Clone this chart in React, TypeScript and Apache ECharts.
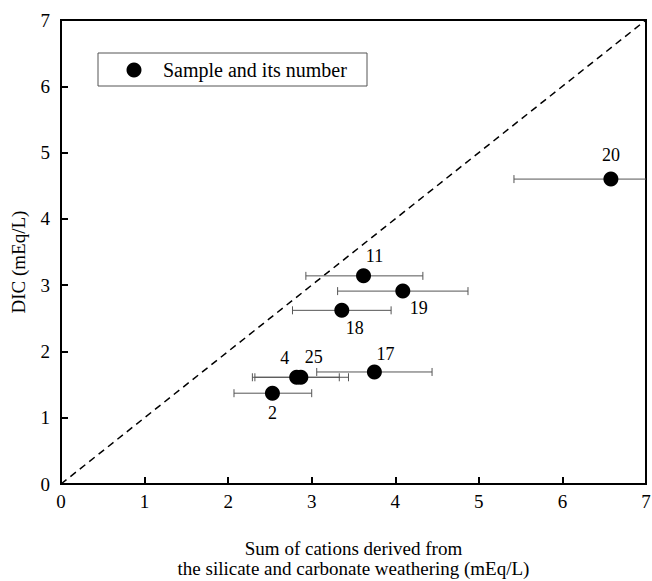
import React, { useEffect, useRef } from "react";
import * as echarts from "echarts";

const sampleIds = ["20", "11", "19", "18", "17", "4", "25", "2"];
const cations = [6.58, 3.62, 4.09, 3.36, 3.75, 2.82, 2.87, 2.53];
const dic = [4.6, 3.14, 2.91, 2.62, 1.69, 1.61, 1.61, 1.37];
const errLow = [5.42, 2.93, 3.31, 2.77, 3.06, 2.29, 2.32, 2.07];
const errHigh = [7.74, 4.33, 4.87, 3.95, 4.44, 3.33, 3.44, 3.0];
const labelOffsets: [number, number][] = [
  [0, -24],
  [11, -20],
  [16, 17],
  [13, 18],
  [11, -18],
  [-12, -19],
  [13, -20],
  [0, 20],
];
const axisTicks = [0, 1, 2, 3, 4, 5, 6, 7];
const oneToOne = [
  [0, 0],
  [7, 7],
];

const FONT = "Liberation Serif";

export default function App() {
  const ref = useRef<HTMLDivElement>(null);
  useEffect(() => {
    if (!ref.current) return;
    const chart = echarts.init(ref.current, null, { renderer: "svg" });
    const axisCommon = {
      type: "value",
      min: axisTicks[0],
      max: axisTicks[axisTicks.length - 1],
      interval: 1,
      axisLine: { show: true, lineStyle: { color: "#000", width: 2 } },
      axisTick: { show: true, inside: true, length: 7, lineStyle: { color: "#000", width: 2 } },
      splitLine: { show: false },
      axisLabel: { color: "#000", fontFamily: FONT, fontSize: 19 },
      nameTextStyle: { color: "#000", fontFamily: FONT, fontSize: 19, lineHeight: 20 },
    };
    chart.setOption({
      animation: false,
      backgroundColor: "#fff",
      grid: {
        left: 61,
        right: 6,
        top: 20,
        bottom: 97,
        outerBoundsMode: "none",
        containLabel: false,
        show: true,
        borderColor: "#000",
        borderWidth: 2,
        backgroundColor: "transparent",
      },
      xAxis: {
        ...axisCommon,
        axisLabel: { ...axisCommon.axisLabel, margin: 8 },
        name: "Sum of cations derived from\nthe silicate and carbonate weathering (mEq/L)",
        nameLocation: "middle",
        nameGap: 54,
      },
      yAxis: {
        ...axisCommon,
        axisLabel: { ...axisCommon.axisLabel, margin: 11 },
      },
      graphic: [
        {
          type: "text",
          x: 18,
          y: 262,
          rotation: Math.PI / 2,
          style: {
            text: "DIC (mEq/L)",
            fill: "#000",
            font: `19px "${FONT}"`,
            align: "center",
            verticalAlign: "middle",
          },
        },
        {
          type: "rect",
          shape: { x: 98, y: 53, width: 269, height: 33 },
          style: { fill: "#fff", stroke: "#555", lineWidth: 1 },
          z: 100,
        },
        {
          type: "circle",
          shape: { cx: 134, cy: 70, r: 7.5 },
          style: { fill: "#000" },
          z: 101,
        },
        {
          type: "text",
          x: 163,
          y: 70,
          style: {
            text: "Sample and its number",
            fill: "#000",
            font: `20px "${FONT}"`,
            verticalAlign: "middle",
          },
          z: 101,
        },
      ],
      series: [
        {
          type: "line",
          data: oneToOne,
          symbol: "none",
          lineStyle: { color: "#000", width: 1.5, type: [7, 5] },
          silent: true,
          z: 1,
        },
        {
          type: "custom",
          clip: true,
          data: errLow.map((lo, i) => [lo, dic[i], errHigh[i]]),
          encode: { x: [0, 2], y: 1 },
          renderItem: (params: any, api: any) => {
            const y = api.value(1);
            const a = api.coord([api.value(0), y]);
            const b = api.coord([api.value(2), y]);
            const h = 4;
            const st = { stroke: "#555", lineWidth: 1 };
            return {
              type: "group",
              children: [
                { type: "line", shape: { x1: a[0], y1: a[1], x2: b[0], y2: b[1] }, style: st },
                { type: "line", shape: { x1: a[0], y1: a[1] - h, x2: a[0], y2: a[1] + h }, style: st },
                { type: "line", shape: { x1: b[0], y1: b[1] - h, x2: b[0], y2: b[1] + h }, style: st },
              ],
            };
          },
          z: 2,
        },
        {
          type: "scatter",
          name: "Sample and its number",
          symbol: "circle",
          symbolSize: 15,
          itemStyle: { color: "#000", opacity: 1 },
          data: cations.map((x, i) => ({
            value: [x, dic[i]],
            label: {
              show: true,
              formatter: sampleIds[i],
              position: "inside",
              offset: labelOffsets[i],
              color: "#000",
              fontFamily: FONT,
              fontSize: 18,
            },
          })),
          z: 3,
        },
      ],
    });
    return () => chart.dispose();
  }, []);
  return (
    <div
      ref={ref}
      style={{ position: "absolute", left: 0, top: 0, width: 652, height: 581 }}
    />
  );
}
